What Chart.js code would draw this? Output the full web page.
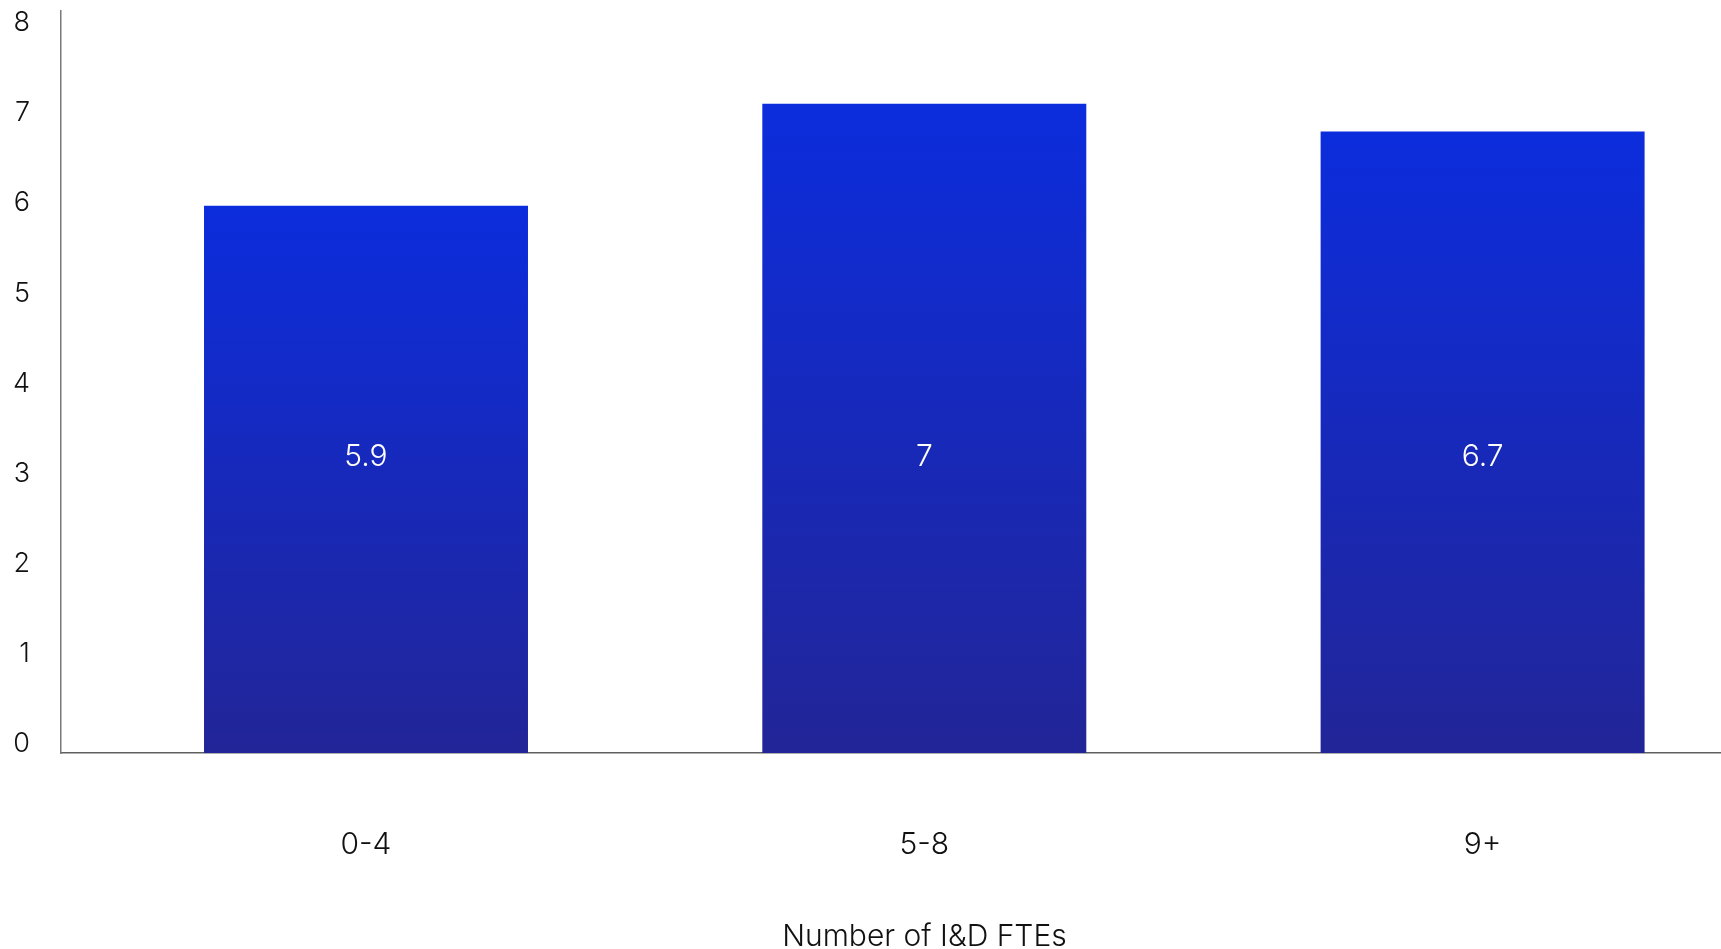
<!DOCTYPE html>
<html>
<head>
<meta charset="utf-8">
<title>Number of I&amp;D FTEs</title>
<script src="https://cdn.jsdelivr.net/npm/chart.js@4.4.1/dist/chart.umd.min.js"></script>
<style>
  html, body { margin: 0; padding: 0; background: #ffffff; overflow: hidden; }
  #wrap { width: 1788px; height: 949px; }
</style>
</head>
<body>
<div id="wrap"><canvas id="chart" width="1788" height="949"></canvas></div>
<script>
// Team size buckets and average score per bucket
const categories = ['0-4', '5-8', '9+'];
const values = [5.9, 7, 6.7];
const yTicks = [0, 1, 2, 3, 4, 5, 6, 7, 8];
const axisTitle = 'Number of I&D FTEs';

const FONT = 'Inter, "Noto Sans", sans-serif';
const TEXT = '#111111';
const TOP_BLUE = '#0c2ddd';
const BOTTOM_BLUE = '#222597';

// height (in value units) at which the value labels sit inside the bars
const LABEL_LEVEL = 3.19;

function barGradient(ctx) {
  const chart = ctx.chart;
  if (!chart.chartArea || !ctx.raw) return TOP_BLUE;
  const y = chart.scales.y;
  const top = y.getPixelForValue(ctx.raw.y);
  const bottom = y.getPixelForValue(0);
  const g = chart.ctx.createLinearGradient(0, top, 0, bottom);
  g.addColorStop(0, TOP_BLUE);
  g.addColorStop(1, BOTTOM_BLUE);
  return g;
}

const valueLabels = {
  id: 'valueLabels',
  afterDatasetsDraw(chart) {
    const c = chart.ctx;
    const meta = chart.getDatasetMeta(0);
    const yPix = chart.scales.y.getPixelForValue(LABEL_LEVEL);
    c.save();
    c.fillStyle = '#ffffff';
    c.font = '300 30px ' + FONT;
    c.textAlign = 'center';
    c.textBaseline = 'middle';
    meta.data.forEach((bar, i) => {
      c.fillText(String(values[i]), bar.x, yPix);
    });
    c.restore();
  }
};

new Chart(document.getElementById('chart'), {
  type: 'bar',
  data: {
    datasets: [{
      data: categories.map((c, i) => ({ x: i, y: values[i] })),
      backgroundColor: barGradient,
      borderWidth: 0,
      categoryPercentage: 0.5803,
      barPercentage: 1,
      yAxisID: 'y',
      xAxisID: 'x'
    }]
  },
  options: {
    responsive: false,
    animation: false,
    layout: { padding: { top: 11, left: 0, right: 0, bottom: 0 } },
    plugins: { legend: { display: false }, tooltip: { enabled: false } },
    scales: {
      x: {
        type: 'linear',
        position: 'bottom',
        min: -0.5463,
        max: 2.547,
        offset: false,
        grid: { display: false, drawTicks: false },
        border: { display: true, color: '#5f5f5f', width: 1.5 },
        afterBuildTicks(scale) {
          scale.ticks = categories.map((c, i) => ({ value: i }));
        },
        ticks: {
          autoSkip: false,
          maxRotation: 0,
          padding: 74,
          color: TEXT,
          font: { family: FONT, size: 30, weight: 300 },
          callback: (v) => categories[v] ?? ''
        },
        title: {
          display: true,
          text: axisTitle,
          color: TEXT,
          font: { family: FONT, size: 30, weight: 300, lineHeight: 0.8 },
          padding: { top: 0, bottom: 0 }
        },
        afterFit(scale) {
          scale.height = 196;
        }
      },
      y: {
        type: 'linear',
        display: false,
        min: 0,
        max: 8
      },
      yl: {
        type: 'linear',
        position: 'left',
        min: -0.1,
        max: 8.1333,
        grid: { display: false, drawTicks: false },
        border: { display: true, color: '#7a7a7a', width: 1.5 },
        afterBuildTicks(scale) {
          scale.ticks = yTicks.map(v => ({ value: v }));
        },
        ticks: {
          padding: 31,
          color: TEXT,
          font: { family: FONT, size: 27, weight: 300 }
        },
        afterFit(scale) {
          scale.width = 61;
          scale.paddingTop = 0;
          scale.paddingBottom = 0;
        }
      }
    }
  },
  plugins: [valueLabels]
});
</script>
</body>
</html>
